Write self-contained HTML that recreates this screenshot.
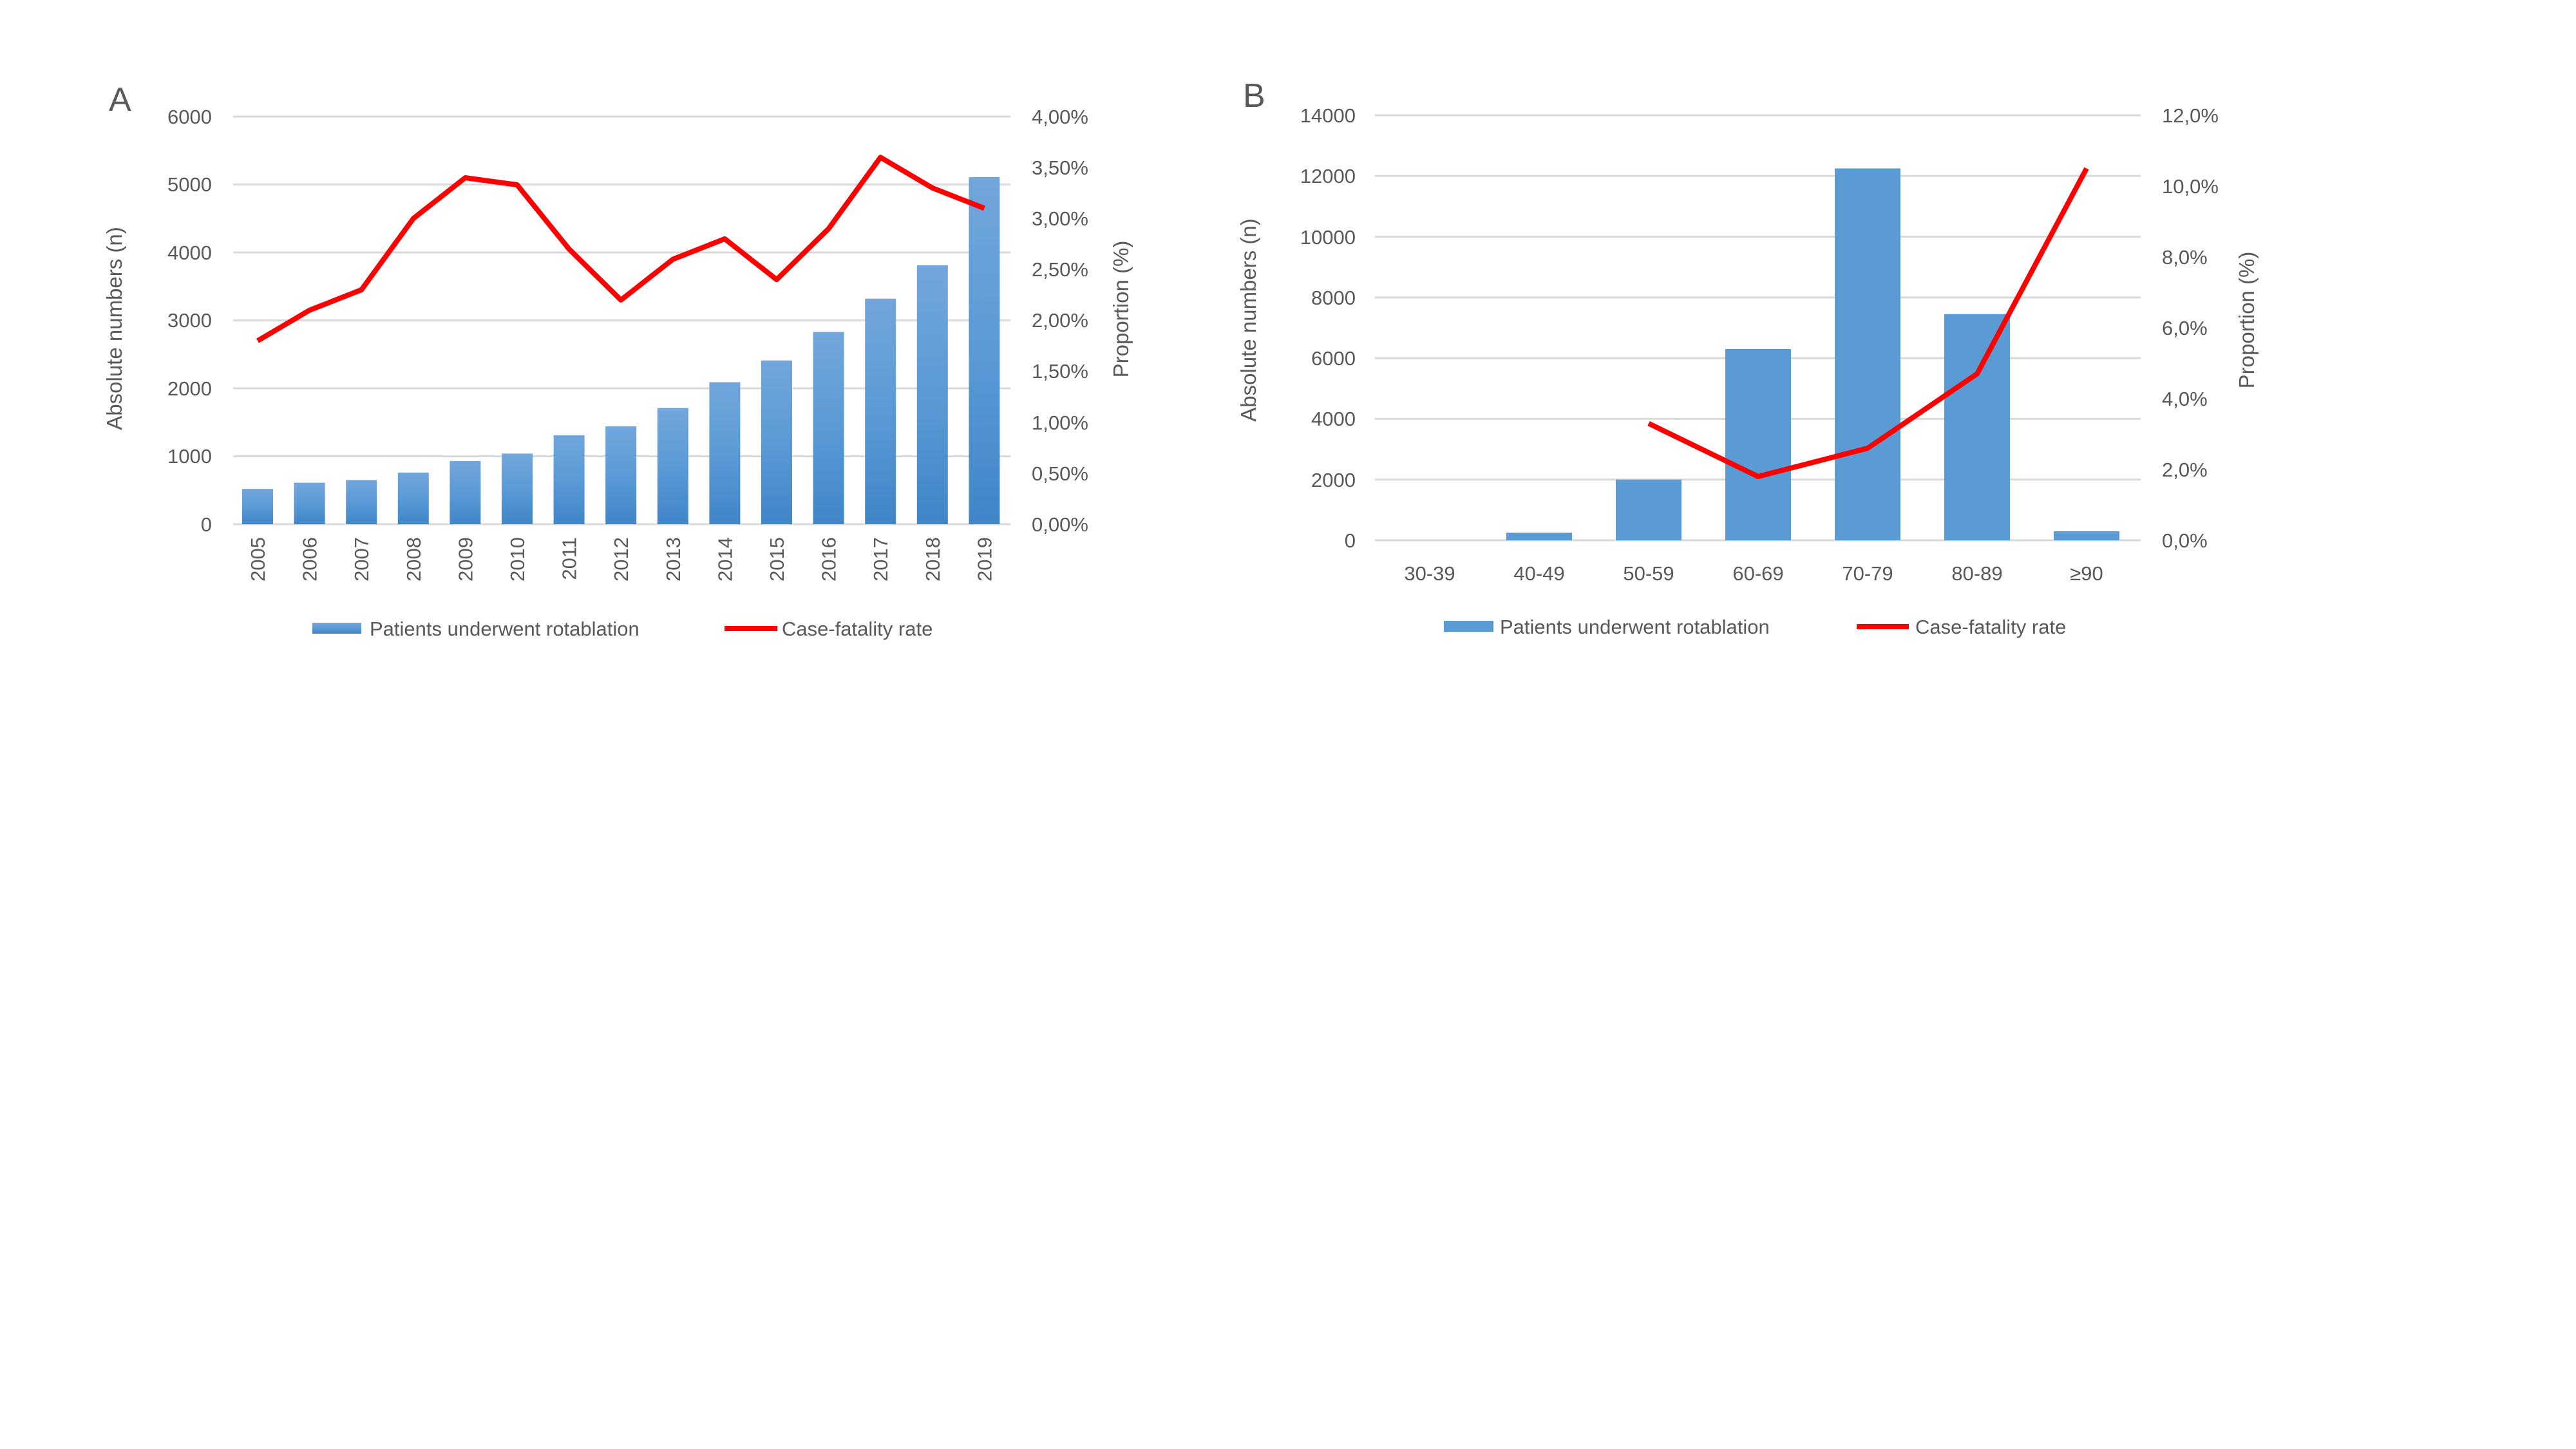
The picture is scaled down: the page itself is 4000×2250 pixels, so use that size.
<!DOCTYPE html>
<html><head><meta charset="utf-8"><style>
html,body{margin:0;padding:0;background:#fff;}
svg{display:block;}
text{font-family:"Liberation Sans",sans-serif;fill:#595959;}
</style></head><body>
<svg width="4000" height="2250" viewBox="0 0 4000 2250" xmlns="http://www.w3.org/2000/svg">
<defs>
<linearGradient id="g" x1="0" y1="0" x2="0" y2="1">
<stop offset="0" stop-color="#72a6dc"/><stop offset="0.5" stop-color="#5a9ad6"/><stop offset="1" stop-color="#3f86c8"/>
</linearGradient>
</defs>
<rect width="4000" height="2250" fill="#fff"/>
<!-- Chart A -->
<text x="169" y="172" font-size="52">A</text>
<g stroke="#d9d9d9" stroke-width="3">
<line x1="362" y1="181" x2="1569" y2="181"/><line x1="362" y1="286.5" x2="1569" y2="286.5"/>
<line x1="362" y1="392" x2="1569" y2="392"/><line x1="362" y1="497.5" x2="1569" y2="497.5"/>
<line x1="362" y1="603" x2="1569" y2="603"/><line x1="362" y1="708.5" x2="1569" y2="708.5"/>
<line x1="362" y1="814" x2="1569" y2="814"/>
</g>
<g font-size="31" text-anchor="end">
<text x="329" y="192">6000</text><text x="329" y="297">5000</text><text x="329" y="403">4000</text>
<text x="329" y="508">3000</text><text x="329" y="614">2000</text><text x="329" y="719">1000</text><text x="329" y="825">0</text>
</g>
<g font-size="31">
<text x="1602" y="192">4,00%</text><text x="1602" y="271">3,50%</text><text x="1602" y="350">3,00%</text>
<text x="1602" y="429">2,50%</text><text x="1602" y="508">2,00%</text><text x="1602" y="587">1,50%</text>
<text x="1602" y="667">1,00%</text><text x="1602" y="746">0,50%</text><text x="1602" y="825">0,00%</text>
</g>
<text transform="translate(189,510) rotate(-90)" font-size="33" text-anchor="middle">Absolute numbers (n)</text>
<text transform="translate(1752,480) rotate(-90)" font-size="33" text-anchor="middle">Proportion (%)</text>
<g fill="url(#g)">
<rect x="376" y="759.1" width="48" height="54.9"/><rect x="456.6" y="749.6" width="48" height="64.4"/>
<rect x="537.2" y="745.4" width="48" height="68.6"/><rect x="617.8" y="733.8" width="48" height="80.2"/>
<rect x="698.4" y="715.9" width="48" height="98.1"/><rect x="779" y="704.3" width="48" height="109.7"/>
<rect x="859.6" y="675.8" width="48" height="138.2"/><rect x="940.2" y="662.1" width="48" height="151.9"/>
<rect x="1020.8" y="633.6" width="48" height="180.4"/><rect x="1101.4" y="593.5" width="48" height="220.5"/>
<rect x="1182" y="559.7" width="48" height="254.3"/><rect x="1262.6" y="515.4" width="48" height="298.6"/>
<rect x="1343.2" y="463.7" width="48" height="350.3"/><rect x="1423.8" y="412" width="48" height="402"/>
<rect x="1504.4" y="274.9" width="48" height="539.1"/>
</g>
<polyline fill="none" stroke="#ff0000" stroke-width="8" stroke-linejoin="round" points="400,529.2 480.6,481.7 561.2,450 641.8,339.3 722.4,276 803,287 883.6,386.7 964.2,465.9 1044.8,402.6 1125.4,370.9 1206,434.2 1286.6,355.1 1367.2,244.3 1447.8,291.8 1528.4,323.4"/>
<g font-size="31" text-anchor="end">
<text transform="translate(411,834) rotate(-90)">2005</text><text transform="translate(491.6,834) rotate(-90)">2006</text>
<text transform="translate(572.2,834) rotate(-90)">2007</text><text transform="translate(652.8,834) rotate(-90)">2008</text>
<text transform="translate(733.4,834) rotate(-90)">2009</text><text transform="translate(814,834) rotate(-90)">2010</text>
<text transform="translate(894.6,834) rotate(-90)">2011</text><text transform="translate(975.2,834) rotate(-90)">2012</text>
<text transform="translate(1055.8,834) rotate(-90)">2013</text><text transform="translate(1136.4,834) rotate(-90)">2014</text>
<text transform="translate(1217,834) rotate(-90)">2015</text><text transform="translate(1297.6,834) rotate(-90)">2016</text>
<text transform="translate(1378.2,834) rotate(-90)">2017</text><text transform="translate(1458.8,834) rotate(-90)">2018</text>
<text transform="translate(1539.4,834) rotate(-90)">2019</text>
</g>
<rect x="485" y="967" width="76" height="17" fill="url(#g)"/>
<text x="574" y="987" font-size="31">Patients underwent rotablation</text>
<line x1="1125" y1="976" x2="1207" y2="976" stroke="#ff0000" stroke-width="8"/>
<text x="1214" y="987" font-size="31">Case-fatality rate</text>

<!-- Chart B -->
<text x="1930" y="166" font-size="52">B</text>
<g stroke="#d9d9d9" stroke-width="3">
<line x1="2135" y1="179" x2="3324" y2="179"/><line x1="2135" y1="273.3" x2="3324" y2="273.3"/>
<line x1="2135" y1="367.6" x2="3324" y2="367.6"/><line x1="2135" y1="461.9" x2="3324" y2="461.9"/>
<line x1="2135" y1="556.1" x2="3324" y2="556.1"/><line x1="2135" y1="650.4" x2="3324" y2="650.4"/>
<line x1="2135" y1="744.7" x2="3324" y2="744.7"/><line x1="2135" y1="839" x2="3324" y2="839"/>
</g>
<g font-size="31" text-anchor="end">
<text x="2105" y="190">14000</text><text x="2105" y="284">12000</text><text x="2105" y="379">10000</text>
<text x="2105" y="473">8000</text><text x="2105" y="567">6000</text><text x="2105" y="661">4000</text>
<text x="2105" y="756">2000</text><text x="2105" y="850">0</text>
</g>
<g font-size="31">
<text x="3357" y="190">12,0%</text><text x="3357" y="300">10,0%</text><text x="3357" y="410">8,0%</text>
<text x="3357" y="520">6,0%</text><text x="3357" y="630">4,0%</text><text x="3357" y="740">2,0%</text>
<text x="3357" y="850">0,0%</text>
</g>
<text transform="translate(1950,497) rotate(-90)" font-size="33" text-anchor="middle">Absolute numbers (n)</text>
<text transform="translate(3500,497) rotate(-90)" font-size="33" text-anchor="middle">Proportion (%)</text>
<g fill="#5b9bd5">
<rect x="2339" y="827.2" width="102" height="11.8"/><rect x="2509" y="744.7" width="102" height="94.3"/>
<rect x="2679" y="542" width="102" height="297"/><rect x="2849" y="261.5" width="102" height="577.5"/>
<rect x="3019" y="487.8" width="102" height="351.2"/><rect x="3189" y="824.9" width="102" height="14.1"/>
</g>
<polyline fill="none" stroke="#ff0000" stroke-width="8" stroke-linejoin="round" points="2560,657.5 2730,740 2900,696 3070,580.5 3240,261.5"/>
<g font-size="31" text-anchor="middle">
<text x="2220" y="901">30-39</text><text x="2390" y="901">40-49</text><text x="2560" y="901">50-59</text>
<text x="2730" y="901">60-69</text><text x="2900" y="901">70-79</text><text x="3070" y="901">80-89</text>
<text x="3240" y="901">≥90</text>
</g>
<rect x="2242" y="964" width="77" height="17" fill="#5b9bd5"/>
<text x="2329" y="984" font-size="31">Patients underwent rotablation</text>
<line x1="2883" y1="973" x2="2964" y2="973" stroke="#ff0000" stroke-width="8"/>
<text x="2974" y="984" font-size="31">Case-fatality rate</text>
</svg>
</body></html>
